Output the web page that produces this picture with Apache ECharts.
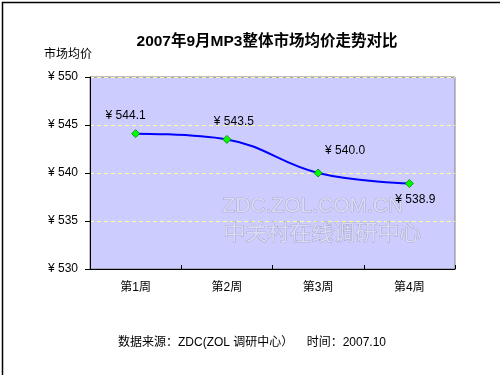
<!DOCTYPE html>
<html>
<head>
<meta charset="utf-8">
<script src="https://cdn.jsdelivr.net/npm/echarts@6/dist/echarts.min.js"></script>
<style>html,body{margin:0;padding:0;background:#fff;}#c{width:500px;height:375px;}</style>
</head>
<body>
<div id="c"></div>
<script>
var categories = ['第1周', '第2周', '第3周', '第4周'];
var prices = [544.1, 543.5, 540.0, 538.9];
var yTicks = [530, 535, 540, 545, 550];

var FONT = '"Liberation Sans", Arial, "Noto Sans CJK SC", sans-serif';
var labelOffsets = [[-10, -18], [7, -18], [27, -22], [6, 16]];

var chart = echarts.init(document.getElementById('c'), null, {renderer: 'canvas'});
var option = {
  backgroundColor: '#ffffff',
  animation: false,
  title: {
    text: '2007年9月MP3整体市场均价走势对比',
    left: 262, top: 29, textAlign: 'center',
    textStyle: {fontFamily: FONT, fontSize: 15.5, fontWeight: 'bold', color: '#000'}
  },
  grid: {
    left: 90, right: 45, top: 77, bottom: 106,
    show: true, backgroundColor: '#CCCCFF', borderColor: '#808080', borderWidth: 1
  },
  xAxis: {
    type: 'category', data: categories, boundaryGap: true,
    axisLine: {lineStyle: {color: '#000', width: 1}},
    axisTick: {show: true, inside: true, length: 4, lineStyle: {color: '#000'}},
    axisLabel: {fontFamily: FONT, fontSize: 12, color: '#000', margin: 13}
  },
  yAxis: {
    type: 'value', min: yTicks[0], max: yTicks[yTicks.length - 1], interval: 5,
    name: '市场均价', nameLocation: 'end', nameGap: 16,
    nameTextStyle: {fontFamily: FONT, fontSize: 12, color: '#000', align: 'left', padding: [0, 0, 0, -46]},
    axisLine: {show: true, lineStyle: {color: '#000', width: 1}},
    axisTick: {show: true, length: 5, lineStyle: {color: '#000'}},
    axisLabel: {fontFamily: FONT, fontSize: 12, color: '#000', margin: 12,
      formatter: function (v) { return '¥ ' + v; }},
    splitLine: {show: true, lineStyle: {color: '#FFFF99', type: [4, 3], width: 1}}
  },
  graphic: [
    {type: 'text', left: 222, top: 195, z: 1, silent: true,
      style: {text: 'ZDC.ZOL.COM.CN', font: '21px ' + FONT, fill: '#DADAF4', stroke: '#9C9CB8', lineWidth: 0.7}},
    {type: 'text', left: 223, top: 220, z: 1, silent: true,
      style: {text: '中关村在线调研中心', font: '22px "Noto Sans CJK SC", sans-serif', fill: '#DADAF4', stroke: '#9C9CB8', lineWidth: 0.7}},
    {type: 'text', left: 118, top: 337, silent: true,
      style: {text: '数据来源：ZDC(ZOL 调研中心）    时间：2007.10', font: '12px ' + FONT, fill: '#000'}},
    {type: 'rect', left: 0, top: 0, silent: true, z: 100,
      shape: {x: 0, y: 0, width: 499, height: 374},
      style: {fill: 'none', stroke: '#000', lineWidth: 1.5}}
  ],
  series: [{
    type: 'line', smooth: 0.4,
    data: prices.map(function (v, i) {
      return {value: v, label: {offset: labelOffsets[i]}};
    }),
    lineStyle: {color: '#0000FF', width: 2},
    symbol: 'diamond', symbolSize: 8,
    itemStyle: {color: '#00FF00', borderColor: '#008000', borderWidth: 0.8},
    label: {show: true, position: 'inside', fontFamily: FONT, fontSize: 12, color: '#000',
      formatter: function (p) { return '¥ ' + p.value.toFixed(1); }},
    z: 5
  }]
};
chart.setOption(option);
</script>
</body>
</html>
